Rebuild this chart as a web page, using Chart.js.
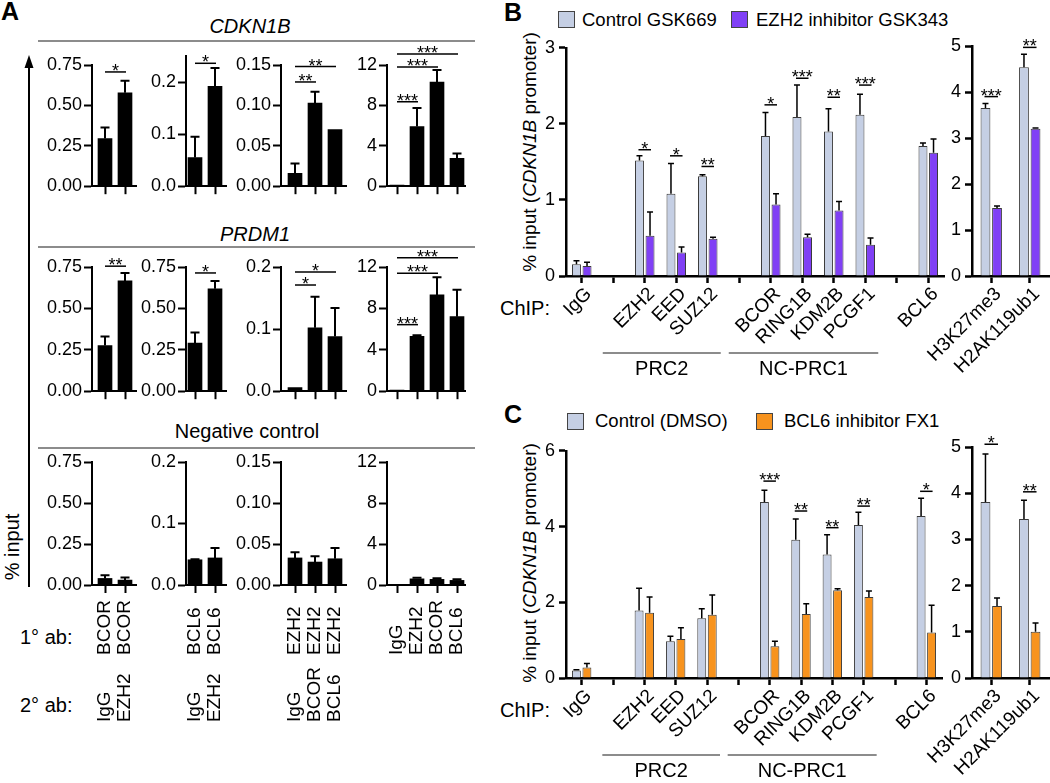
<!DOCTYPE html>
<html>
<head>
<meta charset="utf-8">
<title>ChIP % input</title>
<script src="https://cdn.jsdelivr.net/npm/chart.js@4.4.1/dist/chart.umd.min.js"></script>
<style>
  body { margin:0; width:1050px; height:783px; position:relative; overflow:hidden; background:#fff;
         font-family:"Liberation Sans", Arial, sans-serif; color:#000; }
  canvas { position:absolute; }
  .t { position:absolute; white-space:nowrap; line-height:1; }
  .c { transform:translate(-50%,-50%); }
  .l { transform:translate(0,-50%); }
  .v { transform:translate(-50%,-50%) rotate(-90deg); }
  .box { position:absolute; width:17px; height:17px; border:1.5px solid #444; box-sizing:border-box; }
</style>
</head>
<body>
<svg width="1050" height="783" style="position:absolute;left:0;top:0">
  <g stroke="#666" stroke-width="1.5">
    <line x1="38" y1="41" x2="475" y2="41"/>
    <line x1="38" y1="247" x2="475" y2="247"/>
    <line x1="38" y1="448" x2="475" y2="448"/>
  </g>
  <line x1="29" y1="66" x2="29" y2="587" stroke="#000" stroke-width="2"/>
  <polygon points="29,55 24.5,68 33.5,68" fill="#000"/>
</svg>

<div class="t c" style="left:10px;top:11px;font-weight:bold;font-size:25px">A</div>
<div class="t c" style="left:250px;top:26px;font-size:20px;font-style:italic">CDKN1B</div>
<div class="t c" style="left:255px;top:234px;font-size:20px;font-style:italic">PRDM1</div>
<div class="t c" style="left:247px;top:431px;font-size:20px">Negative control</div>
<div class="t v" style="left:12px;top:547px;font-size:20px">% input</div>
<div class="t l" style="left:20px;top:637px;font-size:20px">1° ab:</div>
<div class="t l" style="left:20px;top:705px;font-size:20px">2° ab:</div>

<div class="t c" style="left:513px;top:12px;font-weight:bold;font-size:25px">B</div>
<div class="box" style="left:558px;top:11px;background:#c5cfe4"></div>
<div class="t l" style="left:582px;top:20px;font-size:18.5px">Control GSK669</div>
<div class="box" style="left:731px;top:11px;background:#8040f5"></div>
<div class="t l" style="left:756px;top:20px;font-size:18.5px">EZH2 inhibitor GSK343</div>
<div class="t v" style="left:529px;top:152px;font-size:19px">% input (<i>CDKN1B</i> promoter)</div>
<div class="t l" style="left:500px;top:308px;font-size:20px">ChIP:</div>

<div class="t c" style="left:513px;top:414px;font-weight:bold;font-size:25px">C</div>
<div class="box" style="left:567px;top:413px;background:#c5cfe4"></div>
<div class="t l" style="left:595px;top:421px;font-size:18.5px">Control (DMSO)</div>
<div class="box" style="left:756px;top:413px;background:#f7931e"></div>
<div class="t l" style="left:784px;top:421px;font-size:18.5px">BCL6 inhibitor FX1</div>
<div class="t v" style="left:529px;top:563px;font-size:19px">% input (<i>CDKN1B</i> promoter)</div>
<div class="t l" style="left:500px;top:710px;font-size:20px">ChIP:</div>

<script>
// ---------- panel A: % input, one array per small chart ----------
const ticks075 = [0, 0.25, 0.5, 0.75];
const ticks02 = [0, 0.1, 0.2];
const ticks015 = [0, 0.05, 0.1, 0.15];
const ticks12 = [0, 4, 8, 12];

const cdknBcor = [0.295, 0.578], cdknBcorSD = [0.068, 0.074];
const cdknBcl6 = [0.055, 0.192], cdknBcl6SD = [0.040, 0.035];
const cdknEzh2 = [0.016, 0.103, 0.070], cdknEzh2SD = [0.012, 0.014, 0];
const cdknSingle = [0.12, 5.9, 10.3, 2.75], cdknSingleSD = [0, 1.85, 1.2, 0.5];

const prdmBcor = [0.276, 0.666], prdmBcorSD = [0.054, 0.048];
const prdmBcl6 = [0.29, 0.618], prdmBcl6SD = [0.064, 0.048];
const prdmEzh2 = [0.006, 0.102, 0.088], prdmEzh2SD = [0, 0.05, 0.046];
const prdmSingle = [0.1, 5.3, 9.3, 7.2], prdmSingleSD = [0, 0.1, 1.7, 2.6];

const negBcor = [0.04, 0.03], negBcorSD = [0.02, 0.015];
const negBcl6 = [0.041, 0.044], negBcl6SD = [0.001, 0.016];
const negEzh2 = [0.033, 0.028, 0.032], negEzh2SD = [0.007, 0.007, 0.013];
const negSingle = [0.05, 0.6, 0.55, 0.45], negSingleSD = [0, 0.1, 0.1, 0.1];

// significance: [bar a, bar b, height, stars]
const cdknBcorSig = [[0, 1, 0.707, '*']];
const cdknBcl6Sig = [[0, 1, 0.236, '*']];
const cdknEzh2Sig = [[0, 1, 0.129, '**'], [0, 2, 0.148, '**']];
const cdknSingleSig = [[0, 1, 8.36, '***'], [0, 2, 11.8, '***'], [0, 3, 13.1, '***']];
const prdmBcorSig = [[0, 1, 0.755, '**']];
const prdmBcl6Sig = [[0, 1, 0.714, '*']];
const prdmEzh2Sig = [[0, 1, 0.171, '*'], [0, 2, 0.192, '*']];
const prdmSingleSig = [[0, 1, 6.43, '***'], [0, 2, 11.4, '***'], [0, 3, 12.9, '***']];

const ab1 = [['BCOR', 'BCOR'], ['BCL6', 'BCL6'], ['EZH2', 'EZH2', 'EZH2'], ['IgG', 'EZH2', 'BCOR', 'BCL6']];
const ab2 = [['IgG', 'EZH2'], ['IgG', 'EZH2'], ['IgG', 'BCOR', 'BCL6'], []];

// ---------- panels B and C ----------
const chipTargets = ['IgG', '', 'EZH2', 'EED', 'SUZ12', '', 'BCOR', 'RING1B', 'KDM2B', 'PCGF1', '', 'BCL6'];
const histoneMarks = ['H3K27me3', 'H2AK119ub1'];
const complexes = [['PRC2', 2, 4], ['NC-PRC1', 6, 9]];

const bControl   = [0.155, null, 1.52, 1.08, 1.31, null, 1.84, 2.09, 1.90, 2.12, null, 1.71];
const bControlSD = [0.045, null, 0.06, 0.40, 0.02, null, 0.31, 0.42, 0.30, 0.27, null, 0.04];
const bGsk343    = [0.13, null, 0.53, 0.31, 0.49, null, 0.94, 0.51, 0.86, 0.41, null, 1.62];
const bGsk343SD  = [0.05, null, 0.31, 0.07, 0.02, null, 0.14, 0.04, 0.12, 0.09, null, 0.18];
const bHistControl = [3.65, 4.54], bHistControlSD = [0.10, 0.28];
const bHistGsk343 = [1.48, 3.20], bHistGsk343SD = [0.04, 0.02];
const bSig = [[2, 1.66, '*'], [3, 1.58, '*'], [4, 1.44, '**'], [6, 2.25, '*'], [7, 2.60, '***'], [8, 2.35, '**'], [9, 2.51, '***']];
const bHistSig = [[0, 3.9, '***'], [1, 4.97, '**']];

const cControl   = [0.20, null, 1.78, 0.97, 1.58, null, 4.65, 3.65, 3.26, 4.04, null, 4.28];
const cControlSD = [0.02, null, 0.59, 0.13, 0.25, null, 0.31, 0.55, 0.52, 0.34, null, 0.47];
const cFx1       = [0.28, null, 1.72, 1.03, 1.67, null, 0.84, 1.69, 2.32, 2.14, null, 1.20];
const cFx1SD     = [0.10, null, 0.42, 0.30, 0.52, null, 0.13, 0.27, 0.04, 0.16, null, 0.72];
const cHistControl = [3.81, 3.44], cHistControlSD = [1.04, 0.41];
const cHistFx1 = [1.56, 1.00], cHistFx1SD = [0.17, 0.19];
const cSig = [[6, 5.2, '***'], [7, 4.41, '**'], [8, 3.97, '**'], [9, 4.54, '**'], [11, 4.93, '*']];
const cHistSig = [[0, 5.06, '*'], [1, 4.03, '**']];

const lightBlue = '#c5cfe4', purple = '#8040f5', orange = '#f7931e';

Chart.defaults.font.family = '"Liberation Sans", Arial, sans-serif';
Chart.defaults.color = '#000';

// upward error bars (mean + SD)
const errorBars = {
  id: 'errorBars',
  afterDatasetsDraw(chart, args, opts) {
    const ctx = chart.ctx, y = chart.scales.y;
    ctx.save();
    ctx.strokeStyle = '#000';
    ctx.lineWidth = opts.width || 1.5;
    chart.data.datasets.forEach((ds, d) => {
      if (!ds.sd) return;
      chart.getDatasetMeta(d).data.forEach((bar, i) => {
        const raw = ds.data[i];
        const v = raw && typeof raw === 'object' ? raw.y : raw;
        const s = ds.sd[i];
        if (v == null || !s) return;
        const top = y.getPixelForValue(v + s);
        ctx.beginPath();
        ctx.moveTo(bar.x, bar.y);
        ctx.lineTo(bar.x, top);
        ctx.moveTo(bar.x - opts.cap, top);
        ctx.lineTo(bar.x + opts.cap, top);
        ctx.stroke();
      });
    });
    ctx.restore();
  }
};

// significance lines with stars
const sigBars = {
  id: 'sigBars',
  afterDraw(chart, args, opts) {
    if (!opts.items) return;
    const ctx = chart.ctx, y = chart.scales.y;
    const m0 = chart.getDatasetMeta(0);
    const m1 = chart.getDatasetMeta(chart.data.datasets.length - 1);
    ctx.save();
    ctx.strokeStyle = '#000';
    ctx.fillStyle = '#000';
    ctx.lineWidth = 1.5;
    ctx.font = '18px "Liberation Sans", Arial';
    ctx.textAlign = 'center';
    ctx.textBaseline = 'alphabetic';
    opts.items.forEach(it => {
      let xa, xb, val, txt;
      if (opts.pair) {
        xa = m0.data[it[0]].x - 1; xb = m1.data[it[0]].x + 1; val = it[1]; txt = it[2];
      } else {
        xa = m0.data[it[0]].x; xb = m0.data[it[1]].x + 1; val = it[2]; txt = it[3];
      }
      const yy = y.getPixelForValue(val);
      ctx.beginPath();
      ctx.moveTo(xa, yy);
      ctx.lineTo(xb, yy);
      ctx.stroke();
      ctx.fillText(txt, (xa + xb) / 2, yy + 5);
    });
    ctx.restore();
  }
};

// vertical antibody labels under panel A bottom row
const abLabels = {
  id: 'abLabels',
  afterDraw(chart, args, opts) {
    if (!opts.first) return;
    const ctx = chart.ctx, meta = chart.getDatasetMeta(0), base = chart.chartArea.bottom;
    ctx.save();
    ctx.font = '19px "Liberation Sans", Arial';
    ctx.fillStyle = '#000';
    ctx.textAlign = 'left';
    ctx.textBaseline = 'middle';
    meta.data.forEach((bar, i) => {
      [[opts.first, 70], [opts.second, 137]].forEach(([list, gap]) => {
        if (!list || !list[i]) return;
        ctx.save();
        ctx.translate(bar.x, base + gap);
        ctx.rotate(-Math.PI / 2);
        ctx.fillText(list[i], 0, 0);
        ctx.restore();
      });
    });
    ctx.restore();
  }
};

// PRC2 / NC-PRC1 grouping lines
const groupLines = {
  id: 'groupLines',
  afterDraw(chart, args, opts) {
    if (!opts.groups) return;
    const ctx = chart.ctx, x = chart.scales.x, base = chart.chartArea.bottom;
    ctx.save();
    opts.groups.forEach(([name, from, to]) => {
      const xa = x.getPixelForValue(from) - 42, xb = x.getPixelForValue(to) + 13;
      ctx.strokeStyle = '#8c8c8c';
      ctx.lineWidth = 2;
      ctx.beginPath();
      ctx.moveTo(xa, base + 77);
      ctx.lineTo(xb, base + 77);
      ctx.stroke();
      ctx.fillStyle = '#000';
      ctx.font = '20px "Liberation Sans", Arial';
      ctx.textAlign = 'center';
      ctx.textBaseline = 'middle';
      ctx.fillText(name, (xa + xb) / 2, base + 93);
    });
    ctx.restore();
  }
};

Chart.register(errorBars, sigBars, abLabels, groupLines);

function makeCanvas(left, top, w, h) {
  const c = document.createElement('canvas');
  c.width = w; c.height = h;
  c.style.left = left + 'px'; c.style.top = top + 'px';
  c.style.width = w + 'px'; c.style.height = h + 'px';
  document.body.appendChild(c);
  return c;
}

const axisGrid = w => ({ drawOnChartArea: false, tickLength: 8, tickColor: '#000', tickWidth: w });

// panel A layout
const aCols = [
  { x0: 92, x1: 136, min: 0.35, max: 2.55 },
  { x0: 186, x1: 226, min: 0.55, max: 2.55 },
  { x0: 281, x1: 346, min: 0.3, max: 3.55 },
  { x0: 387, x1: 465, min: 0.5, max: 4.4 }
];
const aRows = [{ top: 65, bot: 187 }, { top: 267, bot: 392 }, { top: 462, bot: 585 }];

function smallBars(s) {
  const col = aCols[s.col], row = aRows[s.row];
  const top = s.top || row.top;
  const yW = 60, padT = 45, padR = 3, xH = s.row === 2 ? 150 : 12;
  const cv = makeCanvas(col.x0 - yW, top - padT, col.x1 - col.x0 + yW + padR, row.bot - top + padT + xH);
  const pos = s.vals.map((v, i) => i + 1);
  new Chart(cv, {
    type: 'bar',
    data: {
      datasets: [{
        data: s.vals.map((v, i) => ({ x: i + 1, y: v })),
        sd: s.sd,
        backgroundColor: '#000',
        barThickness: 14
      }]
    },
    options: {
      responsive: false, animation: false, devicePixelRatio: 1, events: [],
      layout: { padding: { top: padT, right: padR, left: 0, bottom: 0 } },
      scales: {
        x: {
          type: 'linear', min: col.min, max: col.max, offset: false,
          afterBuildTicks: sc => { sc.ticks = pos.map(v => ({ value: v })); },
          afterFit: sc => { sc.height = xH; },
          ticks: { display: false },
          grid: Object.assign(axisGrid(2), { offset: false }),
          border: { color: '#000', width: 2 }
        },
        y: {
          min: 0, max: s.max,
          afterBuildTicks: sc => { sc.ticks = s.ticks.map(v => ({ value: v })); },
          afterFit: sc => { sc.width = yW; },
          ticks: { font: { size: 18 }, color: '#000', padding: 2, callback: v => Number(v).toFixed(s.dec) },
          grid: axisGrid(2),
          border: { color: '#000', width: 2 }
        }
      },
      plugins: {
        legend: { display: false }, tooltip: { enabled: false },
        errorBars: { width: 2, cap: 4.5 },
        sigBars: { items: s.sig },
        abLabels: s.row === 2 ? { first: ab1[s.col], second: ab2[s.col] } : {}
      }
    }
  });
}

[
  { row: 0, col: 0, vals: cdknBcor, sd: cdknBcorSD, ticks: ticks075, max: 0.75, dec: 2, sig: cdknBcorSig },
  { row: 0, col: 1, vals: cdknBcl6, sd: cdknBcl6SD, ticks: ticks02, max: 0.25, dec: 1, sig: cdknBcl6Sig, top: 56 },
  { row: 0, col: 2, vals: cdknEzh2, sd: cdknEzh2SD, ticks: ticks015, max: 0.15, dec: 2, sig: cdknEzh2Sig },
  { row: 0, col: 3, vals: cdknSingle, sd: cdknSingleSD, ticks: ticks12, max: 12, dec: 0, sig: cdknSingleSig },
  { row: 1, col: 0, vals: prdmBcor, sd: prdmBcorSD, ticks: ticks075, max: 0.75, dec: 2, sig: prdmBcorSig },
  { row: 1, col: 1, vals: prdmBcl6, sd: prdmBcl6SD, ticks: ticks075, max: 0.75, dec: 2, sig: prdmBcl6Sig },
  { row: 1, col: 2, vals: prdmEzh2, sd: prdmEzh2SD, ticks: ticks02, max: 0.2, dec: 1, sig: prdmEzh2Sig },
  { row: 1, col: 3, vals: prdmSingle, sd: prdmSingleSD, ticks: ticks12, max: 12, dec: 0, sig: prdmSingleSig },
  { row: 2, col: 0, vals: negBcor, sd: negBcorSD, ticks: ticks075, max: 0.75, dec: 2 },
  { row: 2, col: 1, vals: negBcl6, sd: negBcl6SD, ticks: ticks02, max: 0.2, dec: 1 },
  { row: 2, col: 2, vals: negEzh2, sd: negEzh2SD, ticks: ticks015, max: 0.15, dec: 2 },
  { row: 2, col: 3, vals: negSingle, sd: negSingleSD, ticks: ticks12, max: 12, dec: 0 }
].forEach(smallBars);

function pairedBars(o) {
  const cv = makeCanvas(o.x0 - o.yW, o.top - o.padT, o.x1 - o.x0 + o.yW + o.padR, o.bot - o.top + o.padT + o.xH);
  new Chart(cv, {
    type: 'bar',
    data: {
      labels: o.labels,
      datasets: o.sets.map(s => ({
        data: s.vals, sd: s.sd, backgroundColor: s.color,
        borderColor: '#3a3a3a', borderWidth: 1,
        categoryPercentage: o.cat, barPercentage: 0.85
      }))
    },
    options: {
      responsive: false, animation: false, devicePixelRatio: 1, events: [],
      layout: { padding: { top: o.padT, right: o.padR, left: 0, bottom: 0 } },
      scales: {
        x: {
          afterFit: sc => { sc.height = o.xH; },
          ticks: { autoSkip: false, minRotation: 45, maxRotation: 45, labelOffset: 7, font: { size: 19 }, color: '#000', padding: 0 },
          grid: Object.assign(axisGrid(2.5), { offset: false, tickLength: 7 }),
          border: { color: '#000', width: 2.5 }
        },
        y: {
          min: 0, max: o.max,
          afterFit: sc => { sc.width = o.yW; },
          ticks: { stepSize: o.step, font: { size: 18 }, color: '#000', padding: 4 },
          grid: Object.assign(axisGrid(2.5), { tickLength: 7 }),
          border: { color: '#000', width: 2.5 }
        }
      },
      plugins: {
        legend: { display: false }, tooltip: { enabled: false },
        errorBars: { width: 1.5, cap: 3 },
        sigBars: { items: o.sig, pair: true },
        groupLines: o.groups ? { groups: o.groups } : {}
      }
    }
  });
}

pairedBars({ x0: 566, x1: 944, top: 43, bot: 276, yW: 56, padT: 10, padR: 2, xH: 104, max: 3, step: 1, cat: 0.67,
  labels: chipTargets, sig: bSig, groups: complexes,
  sets: [{ vals: bControl, sd: bControlSD, color: lightBlue }, { vals: bGsk343, sd: bGsk343SD, color: purple }] });
pairedBars({ x0: 972, x1: 1049, top: 46, bot: 276, yW: 72, padT: 34, padR: 1, xH: 104, max: 5, step: 1, cat: 0.6,
  labels: histoneMarks, sig: bHistSig,
  sets: [{ vals: bHistControl, sd: bHistControlSD, color: lightBlue }, { vals: bHistGsk343, sd: bHistGsk343SD, color: purple }] });

pairedBars({ x0: 566, x1: 942, top: 448, bot: 678, yW: 56, padT: 12, padR: 2, xH: 104, max: 6, step: 2, cat: 0.67,
  labels: chipTargets, sig: cSig, groups: complexes,
  sets: [{ vals: cControl, sd: cControlSD, color: lightBlue }, { vals: cFx1, sd: cFx1SD, color: orange }] });
pairedBars({ x0: 972, x1: 1049, top: 447, bot: 678, yW: 72, padT: 34, padR: 1, xH: 104, max: 5, step: 1, cat: 0.6,
  labels: histoneMarks, sig: cHistSig,
  sets: [{ vals: cHistControl, sd: cHistControlSD, color: lightBlue }, { vals: cHistFx1, sd: cHistFx1SD, color: orange }] });
</script>
</body>
</html>
